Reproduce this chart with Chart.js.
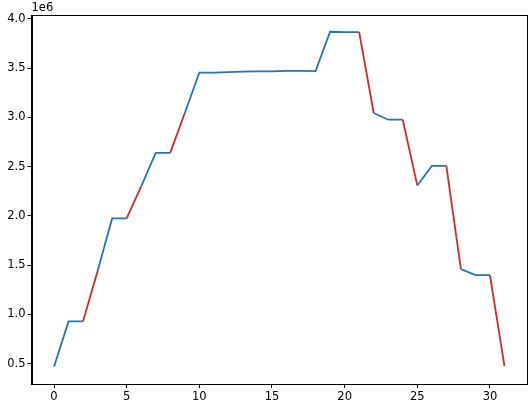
<!DOCTYPE html>
<html>
<head>
<meta charset="utf-8">
<script src="https://cdn.jsdelivr.net/npm/chart.js@4/dist/chart.umd.min.js"></script>
<style>
  html, body { margin: 0; padding: 0; background: #fff; }
  #wrap { width: 529px; height: 405px; }
</style>
</head>
<body>
<div id="wrap"><canvas id="chart"></canvas></div>
<script>
// x positions (day index) and values
var days = [0, 1, 2, 3, 4, 5, 6, 7, 8, 9, 10, 11, 12, 13, 14, 15,
            16, 17, 18, 19, 20, 21, 22, 23, 24, 25, 26, 27, 28, 29, 30, 31];
var values = [0.47e6, 0.93e6, 0.93e6, 1.44e6, 1.975e6, 1.975e6, 2.30e6, 2.64e6,
              2.64e6, 3.045e6, 3.455e6, 3.455e6, 3.46e6, 3.465e6, 3.467e6, 3.468e6,
              3.473e6, 3.473e6, 3.47e6, 3.87e6, 3.866e6, 3.866e6, 3.045e6, 2.977e6,
              2.977e6, 2.31e6, 2.508e6, 2.508e6, 1.46e6, 1.40e6, 1.40e6, 0.475e6];
// segments starting at these indices are drawn red
var redSegments = [2, 5, 8, 21, 24, 27, 30];
var xTicks = [0, 5, 10, 15, 20, 25, 30];
var yTicks = [0.5e6, 1.0e6, 1.5e6, 2.0e6, 2.5e6, 3.0e6, 3.5e6, 4.0e6];

var points = days.map(function(d, i) { return {x: d, y: values[i]}; });

var frame = {
  id: 'frame',
  afterDraw: function(chart) {
    var a = chart.chartArea, c = chart.ctx;
    c.save();
    c.strokeStyle = '#000';
    c.lineWidth = 1;
    c.strokeRect(Math.round(a.left) + 0.5, Math.round(a.top) + 0.5,
                 Math.round(a.right - a.left) - 1, Math.round(a.bottom - a.top));
    c.fillStyle = '#000';
    c.font = '11.5px "DejaVu Sans"';
    c.textAlign = 'left';
    c.textBaseline = 'alphabetic';
    c.fillText('1e6', a.left, 11);
    c.restore();
  }
};

Chart.defaults.font.family = '"DejaVu Sans", sans-serif';
Chart.defaults.font.size = 11.5;
Chart.defaults.color = '#000';

new Chart(document.getElementById('chart'), {
  type: 'line',
  data: {
    datasets: [{
      data: points,
      borderColor: '#1f77b4',
      borderWidth: 1.8,
      pointRadius: 0,
      tension: 0,
      fill: false,
      segment: {
        borderColor: function(ctx) {
          return redSegments.indexOf(ctx.p0DataIndex) >= 0 ? '#d62728' : '#1f77b4';
        }
      }
    }]
  },
  options: {
    responsive: true,
    maintainAspectRatio: false,
    animation: false,
    layout: { padding: { top: 15, right: 2, left: 0, bottom: 0 } },
    plugins: { legend: { display: false }, tooltip: { enabled: false } },
    scales: {
      x: {
        type: 'linear',
        min: -1.55,
        max: 32.55,
        afterFit: function(s) { s.height = 21; },
        afterBuildTicks: function(s) { s.ticks = xTicks.map(function(v) { return {value: v}; }); },
        ticks: { padding: 2, maxRotation: 0, autoSkip: false },
        grid: { display: true, drawOnChartArea: false, drawTicks: true, tickLength: 4, color: '#000' },
        border: { display: true, color: '#000', width: 1 }
      },
      y: {
        min: 0.294e6,
        max: 4.04e6,
        afterFit: function(s) { s.width = 31.5; },
        afterBuildTicks: function(s) { s.ticks = yTicks.map(function(v) { return {value: v}; }); },
        ticks: {
          padding: 2,
          autoSkip: false,
          callback: function(v) { return (v / 1e6).toFixed(1); }
        },
        grid: { display: true, drawOnChartArea: false, drawTicks: true, tickLength: 4, color: '#000' },
        border: { display: true, color: '#000', width: 1 }
      }
    }
  },
  plugins: [frame]
});
</script>
</body>
</html>
